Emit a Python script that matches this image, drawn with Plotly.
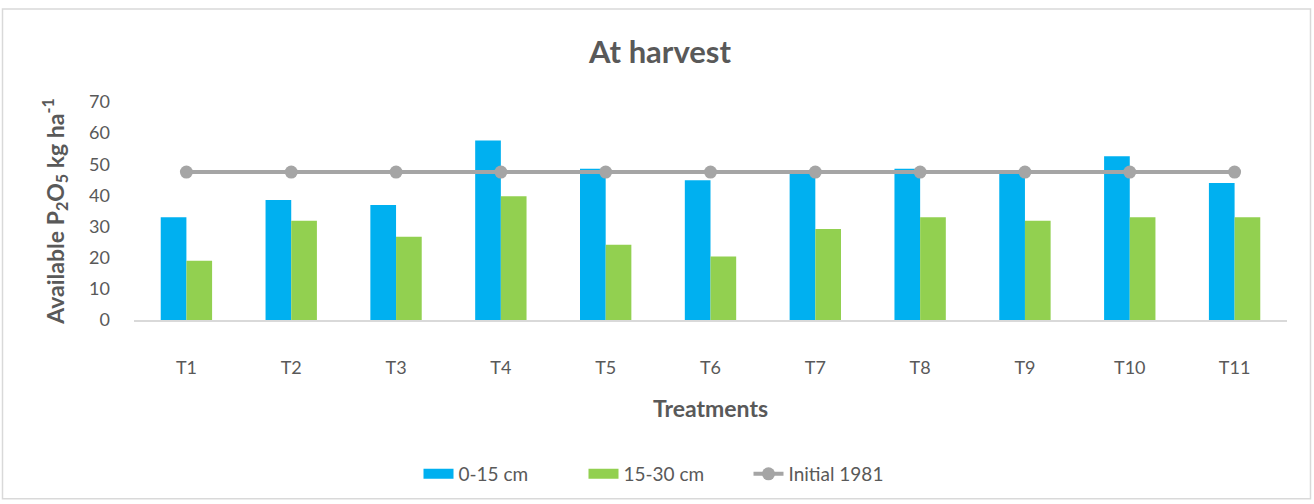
import plotly.graph_objects as go

treatments = ["T1", "T2", "T3", "T4", "T5", "T6", "T7", "T8", "T9", "T10", "T11"]
depth_0_15 = [33.0, 38.5, 36.9, 57.6, 48.6, 44.9, 47.3, 48.6, 47.3, 52.6, 44.0]
depth_15_30 = [19.0, 31.9, 26.7, 39.7, 24.2, 20.4, 29.2, 33.0, 31.9, 33.0, 33.0]
initial_1981 = [47.5] * len(treatments)

FONT = "Lato"
GREY_TEXT = "#595959"
BLUE, GREEN, GREY_LINE = "#00b0f0", "#92d050", "#a5a5a5"

fig = go.Figure()
fig.add_trace(go.Bar(x=treatments, y=depth_0_15, name="0-15 cm", showlegend=False,
                     legendgroup="a", marker=dict(color=BLUE, line=dict(width=0))))
fig.add_trace(go.Bar(x=treatments, y=depth_15_30, name="15-30 cm", showlegend=False,
                     legendgroup="b", marker=dict(color=GREEN, line=dict(width=0))))
fig.add_trace(go.Scatter(x=treatments, y=initial_1981, name="Initial 1981",
                         mode="lines+markers", legendrank=3,
                         line=dict(color=GREY_LINE, width=4),
                         marker=dict(color=GREY_LINE, size=13)))
# wide flat swatches for the two bar series in the legend
fig.add_trace(go.Scatter(x=[None], y=[None], mode="lines", name="0-15 cm",
                         legendgroup="a", legendrank=1,
                         line=dict(color=BLUE, width=14)))
fig.add_trace(go.Scatter(x=[None], y=[None], mode="lines", name="15-30 cm",
                         legendgroup="b", legendrank=2,
                         line=dict(color=GREEN, width=14)))

# plot area spans x 134..1287 px and y 102..321 px
L, R, T, B = 134, 1287, 102, 321
W, H = R - L, B - T
def px(x):
    return (x - L) / W
def py(y):
    return (B - y) / H

fig.update_layout(
    width=1314, height=504,
    margin=dict(l=L, r=1314 - R, t=T, b=504 - B),
    paper_bgcolor="white", plot_bgcolor="white",
    font=dict(family=FONT, color=GREY_TEXT, size=18),
    barmode="group", bargap=0.51, bargroupgap=0,
    title=dict(text="At harvest", x=px(660), xanchor="center", xref="paper",
               y=1 - 52 / 504, yanchor="middle",
               font=dict(family=FONT, size=31, color=GREY_TEXT, weight="bold")),
    legend=dict(orientation="h", x=px(666), xanchor="center",
                y=py(474), yanchor="middle",
                font=dict(size=19, color=GREY_TEXT), entrywidth=120,
                traceorder="normal", itemclick=False),
    showlegend=True,
    shapes=[dict(type="rect", xref="paper", yref="paper",
                 x0=px(2.5), x1=px(1310.5), y0=py(500.5), y1=py(8.5),
                 line=dict(color="#d9d9d9", width=1.5), layer="below")],
)
fig.update_xaxes(range=[-0.5, len(treatments) - 0.5],
                 showline=True, linecolor="#d9d9d9", linewidth=1.5,
                 showgrid=False, zeroline=False, ticks="", automargin=False,
                 ticklabelstandoff=31,
                 tickfont=dict(size=18, color=GREY_TEXT),
                 title=dict(text="Treatments", standoff=24,
                            font=dict(size=23, color=GREY_TEXT, weight="bold")))
fig.update_yaxes(range=[0, 70], dtick=10, showgrid=False, zeroline=False,
                 showline=False, ticks="", ticklabelstandoff=23, automargin=False,
                 tickfont=dict(size=18, color=GREY_TEXT),
                 title=dict(text="Available P<sub>2</sub>O<sub>5</sub> kg ha<sup>-1</sup>",
                            standoff=18,
                            font=dict(size=23, color=GREY_TEXT, weight="bold")))

fig.write_html("out.html")
